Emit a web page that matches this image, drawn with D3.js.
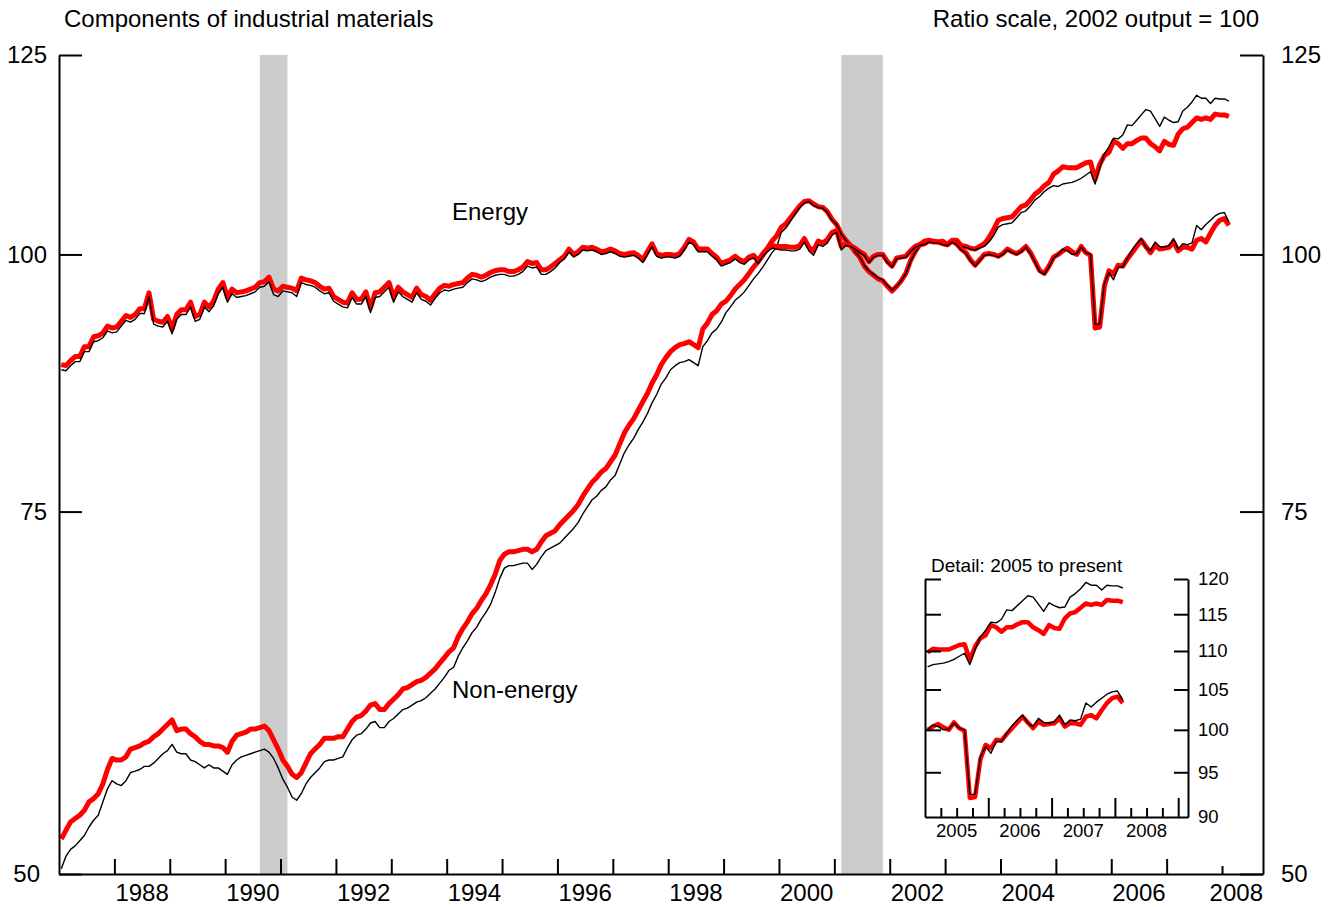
<!DOCTYPE html>
<html>
<head>
<meta charset="utf-8">
<script src="https://cdn.jsdelivr.net/npm/d3@7"></script>
<style>
  body { margin: 0; background: #fff; }
  text { font-family: "Liberation Sans", Arial, Helvetica, sans-serif; fill: #000; }
</style>
</head>
<body>
<svg id="chart" width="1332" height="907"></svg>
<script>
// ---------------- DATA ----------------
// Monthly values, Jan 1987 .. Feb 2008 (index 2002 output = 100, ratio scale)
const firstYear = 1987;

// Energy, current estimate (red)
const energyCurrent = [
  88.4, 88.3, 88.8, 89.2, 89.2, 90.2, 90.2, 91.2, 91.3, 91.6, 92.3, 92.1,
  92.2, 92.8, 93.4, 93.2, 93.5, 94.1, 94.1, 95.8, 93.0, 92.8, 92.7, 93.3,
  92.0, 93.5, 94.0, 94.0, 94.8, 93.3, 93.5, 94.8, 94.3, 94.9, 96.2, 96.9,
  95.3, 96.2, 95.8, 95.9, 96.0, 96.2, 96.4, 96.9, 97.0, 97.5, 96.2, 96.0,
  96.5, 96.4, 96.3, 96.0, 97.4, 97.2, 97.1, 96.9, 96.5, 96.2, 96.3, 95.4,
  95.1, 94.8, 94.7, 95.8, 95.1, 95.1, 95.9, 94.2, 95.8, 95.9, 96.4, 96.9,
  95.3, 96.4, 95.9, 95.6, 95.3, 96.3, 95.6, 95.4, 95.0, 95.7, 96.3, 96.6,
  96.5, 96.7, 96.8, 96.9, 97.4, 97.8, 97.7, 97.5, 97.7, 98.0, 98.2, 98.3,
  98.3, 98.1, 98.1, 98.3, 98.6, 99.2, 99.0, 99.1, 98.3, 98.3, 98.6, 99.0,
  99.4, 99.8, 100.6, 100.0, 100.3, 100.8, 100.7, 100.8, 100.6, 100.3, 100.4, 100.6,
  100.4, 100.1, 100.0, 100.1, 100.2, 99.9, 99.4, 100.3, 101.2, 100.1, 99.9, 100.0,
  100.0, 99.9, 100.1, 100.8, 101.7, 101.4, 100.6, 100.6, 100.6, 100.1, 99.7, 99.0,
  99.2, 99.4, 99.8, 99.4, 99.2, 99.7, 99.9, 99.3, 100.1, 100.6, 101.0, 100.9,
  100.9, 100.9, 100.8, 100.8, 101.0, 101.8, 100.8, 100.4, 101.5, 101.3, 101.7, 102.5,
  102.7, 100.9, 101.2, 101.0, 100.7, 100.3, 100.0, 99.2, 99.8, 100.0, 100.0, 99.2,
  98.7, 99.6, 99.7, 99.8, 100.4, 100.9, 101.1, 101.2, 101.5, 101.4, 101.4, 101.2,
  101.1, 101.5, 101.2, 100.6, 100.2, 99.4, 98.8, 99.4, 100.0, 100.1, 100.0, 99.8,
  100.1, 100.6, 100.3, 100.1, 100.4, 100.9, 100.2, 99.2, 98.2, 97.9, 98.7, 99.7,
  100.0, 100.4, 100.7, 100.3, 100.0, 100.9, 100.2, 99.9, 92.1, 92.2, 96.5, 98.2,
  97.8, 98.8, 98.7, 99.5, 100.2, 100.9, 101.6, 100.9, 100.2, 101.0, 100.6, 100.7,
  100.8, 101.4, 100.4, 100.8, 100.8, 100.6, 101.6, 101.8, 101.4, 102.4, 103.3, 103.9,
  104.1, 103.3
];

// Energy, previous estimate (black)
const energyPrevious = [
  87.9, 87.8, 88.3, 88.7, 88.7, 89.7, 89.7, 90.7, 90.8, 91.1, 91.8, 91.6,
  91.7, 92.3, 92.9, 92.7, 93.0, 93.6, 93.6, 95.4, 92.5, 92.3, 92.2, 92.8,
  91.5, 93.0, 93.5, 93.5, 94.3, 92.8, 93.0, 94.3, 93.8, 94.4, 95.7, 96.4,
  94.8, 95.7, 95.3, 95.4, 95.5, 95.7, 95.9, 96.4, 96.5, 97.0, 95.6, 95.4,
  96.0, 95.9, 95.8, 95.4, 96.9, 96.7, 96.6, 96.4, 96.0, 95.7, 95.8, 94.9,
  94.6, 94.3, 94.2, 95.3, 94.6, 94.6, 95.4, 93.7, 95.3, 95.4, 95.9, 96.4,
  94.8, 95.9, 95.4, 95.1, 94.8, 95.8, 95.1, 94.9, 94.5, 95.2, 95.8, 96.1,
  96.0, 96.2, 96.3, 96.4, 96.9, 97.3, 97.2, 97.0, 97.2, 97.5, 97.7, 97.8,
  97.8, 97.6, 97.6, 97.8, 98.1, 98.7, 98.5, 98.6, 97.8, 97.8, 98.1, 98.5,
  99.1, 99.5, 100.3, 99.7, 100.0, 100.5, 100.4, 100.5, 100.3, 100.0, 100.1, 100.3,
  100.1, 99.8, 99.7, 99.8, 99.9, 99.6, 99.1, 100.0, 100.9, 99.8, 99.6, 99.7,
  99.7, 99.6, 99.8, 100.5, 101.4, 101.1, 100.3, 100.3, 100.3, 99.8, 99.4, 98.7,
  98.9, 99.1, 99.5, 99.1, 98.9, 99.4, 99.6, 99.0, 99.8, 100.3, 100.7, 100.6,
  100.5, 100.5, 100.4, 100.4, 100.6, 101.4, 100.4, 99.9, 101.1, 100.9, 101.3, 102.2,
  102.5, 100.5, 101.0, 100.9, 100.6, 100.2, 99.9, 99.1, 99.7, 99.9, 99.9, 99.1,
  98.6, 99.5, 99.6, 99.7, 100.3, 100.8, 101.0, 101.1, 101.4, 101.3, 101.3, 101.1,
  101.0, 101.4, 101.1, 100.5, 100.1, 99.3, 98.7, 99.3, 99.9, 100.0, 99.9, 99.7,
  100.0, 100.5, 100.2, 100.0, 100.3, 100.8, 100.1, 99.1, 98.1, 97.8, 98.6, 99.6,
  100.0, 100.6, 100.4, 100.0, 100.1, 100.8, 100.2, 100.0, 92.5, 92.5, 96.8, 98.0,
  97.2, 98.6, 98.6, 99.6, 100.5, 101.2, 101.8, 100.8, 100.4, 101.4, 100.9, 100.8,
  101.0, 101.8, 100.6, 101.2, 101.1, 101.3, 103.3, 102.8, 103.4, 103.9, 104.4, 104.7,
  104.8, 103.7
];

// Non-energy, current estimate (red)
const nonEnergyCurrent = [
  52.0, 52.5, 53.0, 53.2, 53.4, 53.7, 54.2, 54.4, 54.7, 55.3, 56.2, 56.9,
  56.8, 56.8, 57.0, 57.5, 57.6, 57.7, 57.9, 58.0, 58.3, 58.5, 58.8, 59.1,
  59.4, 58.7, 58.8, 58.8, 58.5, 58.3, 58.0, 57.8, 57.8, 57.7, 57.7, 57.6,
  57.3, 58.0, 58.4, 58.5, 58.6, 58.8, 58.8, 58.9, 59.0, 58.7, 58.1, 57.5,
  56.8, 56.4, 55.9, 55.7, 56.0, 56.6, 57.2, 57.5, 57.8, 58.2, 58.2, 58.2,
  58.3, 58.3, 58.8, 59.3, 59.6, 59.7, 60.0, 60.4, 60.5, 60.1, 60.1, 60.5,
  60.8, 61.1, 61.5, 61.6, 61.8, 62.0, 62.1, 62.3, 62.6, 62.9, 63.3, 63.7,
  64.1, 64.4, 65.2, 65.8, 66.3, 66.9, 67.3, 67.9, 68.4, 69.1, 69.9, 71.0,
  71.5, 71.7, 71.7, 71.8, 71.9, 71.9, 71.7, 71.9, 72.5, 73.0, 73.2, 73.4,
  73.9, 74.3, 74.7, 75.1, 75.6, 76.3, 76.9, 77.5, 77.9, 78.4, 78.7, 79.3,
  79.9, 80.9, 81.9, 82.6, 83.2, 84.0, 84.8, 85.6, 86.6, 87.4, 88.4, 89.1,
  89.7, 90.1, 90.4, 90.5, 90.7, 90.4, 90.1, 92.0, 92.6, 93.5, 93.9, 94.6,
  94.9, 95.5, 96.2, 96.7, 97.2, 97.9, 98.6, 99.2, 99.9, 100.7, 101.5, 102.1,
  103.1, 103.5, 104.2, 104.9, 105.6, 106.1, 106.2, 105.8, 105.5, 105.4, 104.9, 104.0,
  103.4, 102.3, 101.6, 101.0, 100.3, 99.7, 98.7, 98.1, 97.7, 97.3, 97.1, 96.5,
  96.0, 96.5, 97.1, 97.9, 99.3, 100.3, 101.1, 101.5, 101.6, 101.5, 101.4, 101.5,
  101.1, 101.6, 101.6, 101.0, 100.9, 100.7, 100.6, 100.9, 101.2, 101.9, 102.8, 103.9,
  104.1, 104.2, 104.3, 104.9, 105.5, 105.7, 106.3, 107.0, 107.4, 108.0, 108.4, 109.4,
  109.8, 110.3, 110.2, 110.2, 110.2, 110.5, 110.8, 110.9, 108.8, 110.6, 111.7, 112.1,
  113.5, 113.2, 112.6, 113.2, 113.2, 113.6, 113.9, 113.9, 113.2, 112.8, 112.3, 113.5,
  113.1, 113.0, 114.4, 115.1, 115.3, 115.9, 116.5, 116.3, 116.5, 116.3, 117.0, 116.9,
  116.9, 116.7
];

// Non-energy, previous estimate (black)
const nonEnergyPrevious = [
  50.3, 51.0, 51.4, 51.6, 51.9, 52.2, 52.7, 53.1, 53.4, 54.2, 55.0, 55.5,
  55.3, 55.2, 55.5, 56.0, 56.1, 56.2, 56.4, 56.4, 56.6, 56.9, 57.2, 57.4,
  57.8, 57.3, 57.2, 57.2, 56.8, 56.7, 56.5, 56.3, 56.5, 56.3, 56.3, 56.1,
  55.9, 56.5, 56.8, 57.0, 57.1, 57.2, 57.3, 57.4, 57.5, 57.3, 56.9, 56.3,
  55.6, 55.1, 54.5, 54.3, 54.7, 55.3, 55.7, 56.0, 56.3, 56.7, 56.8, 56.8,
  56.9, 57.0, 57.6, 58.1, 58.4, 58.5, 58.8, 59.2, 59.3, 58.9, 58.9, 59.3,
  59.5, 59.8, 60.1, 60.2, 60.4, 60.6, 60.7, 60.9, 61.2, 61.5, 61.9, 62.3,
  62.8, 63.0, 63.8, 64.4, 64.9, 65.5, 65.9, 66.5, 67.0, 67.6, 68.5, 69.6,
  70.4, 70.6, 70.6, 70.7, 70.8, 70.8, 70.3, 70.7, 71.3, 71.8, 72.0, 72.2,
  72.4, 72.8, 73.2, 73.6, 74.1, 74.8, 75.4, 76.0, 76.3, 76.8, 77.1, 77.7,
  78.1, 79.1, 80.1, 80.8, 81.4, 82.2, 82.9, 83.7, 84.7, 85.5, 86.5, 87.1,
  87.9, 88.3, 88.6, 88.7, 88.9, 88.6, 88.3, 90.2, 90.8, 91.6, 92.0, 92.7,
  93.7, 94.3, 95.0, 95.4, 95.9, 96.6, 97.3, 97.9, 98.6, 99.4, 100.2, 100.8,
  102.5, 103.0, 103.8, 104.6, 105.4, 105.9, 106.1, 105.6, 105.4, 105.3, 104.8, 103.9,
  103.4, 102.3, 101.6, 101.0, 100.3, 99.7, 98.8, 98.2, 97.8, 97.4, 97.2, 96.6,
  96.1, 96.5, 97.1, 97.9, 99.2, 100.2, 101.0, 101.4, 101.5, 101.4, 101.3, 101.4,
  101.1, 101.5, 101.5, 100.9, 100.8, 100.6, 100.5, 100.7, 100.9, 101.4, 102.1, 103.1,
  103.4, 103.5, 103.6, 104.2, 104.8, 105.0, 105.6, 106.3, 106.7, 107.3, 107.7, 108.0,
  107.9, 108.2, 108.3, 108.4, 108.6, 108.9, 109.3, 109.7, 108.2, 110.2, 111.9, 112.8,
  113.9, 113.8, 114.3, 115.6, 115.5, 116.2, 116.9, 117.6, 117.4, 116.4, 115.4, 116.6,
  116.2, 115.9, 116.0, 117.4, 117.9, 118.6, 119.5, 119.1, 119.1, 118.4, 119.1, 119.0,
  119.0, 118.7
];

// Recessions (decimal years, start / end of shading)
const recessions = [[1990.625, 1991.125], [2001.125, 2001.875]];

// Axis ticks / labels
const yTicks = [50, 75, 100, 125];
const xTickYears = d3.range(1988, 2009);
const xLabelYears = [1988, 1990, 1992, 1994, 1996, 1998, 2000, 2002, 2004, 2006, 2008];
const insetFirstYear = 2005;
const insetYTicks = [90, 95, 100, 105, 110, 115, 120];
const insetLabelYears = [2005, 2006, 2007, 2008];

const titleLeft = "Components of industrial materials";
const titleRight = "Ratio scale, 2002 output = 100";
const insetTitle = "Detail: 2005 to present";

// ---------------- CHART ----------------
const svg = d3.select("#chart");
const monthTime = i => firstYear + (i + 0.5) / 12;

const x = d3.scaleLinear().domain([1987, 2008.74]).range([59, 1263]);
const y = d3.scaleLog().domain([50, 125]).range([874, 55]);

// recession shading
svg.append("g").selectAll("rect").data(recessions).join("rect")
  .attr("x", d => x(d[0])).attr("width", d => x(d[1]) - x(d[0]))
  .attr("y", y(125)).attr("height", y(50) - y(125))
  .attr("fill", "#cccccc");

const mainLine = d3.line().x((d, i) => x(monthTime(i))).y(d => y(d));

function drawPair(g, lineGen, cur, prev, redW, blackW) {
  g.append("path").attr("d", lineGen(cur)).attr("fill", "none")
    .attr("stroke", "#ff0000").attr("stroke-width", redW).attr("stroke-linejoin", "round");
  g.append("path").attr("d", lineGen(prev)).attr("fill", "none")
    .attr("stroke", "#000").attr("stroke-width", blackW).attr("stroke-linejoin", "round");
}
const lines = svg.append("g");
drawPair(lines, mainLine, nonEnergyCurrent, nonEnergyPrevious, 5, 1.4);
drawPair(lines, mainLine, energyCurrent, energyPrevious, 5, 1.4);

// axes
const fontMain = "24px";
const leftAxis = svg.append("g").attr("transform", "translate(59,0)")
  .call(d3.axisLeft(y).tickValues(yTicks).tickFormat(d3.format("d"))
    .tickSizeInner(-23).tickSizeOuter(0).tickPadding(12));
const rightAxis = svg.append("g").attr("transform", "translate(1263,0)")
  .call(d3.axisRight(y).tickValues(yTicks).tickFormat(d3.format("d"))
    .tickSizeInner(-23).tickSizeOuter(0).tickPadding(18));
const bottomAxis = svg.append("g").attr("transform", "translate(0,874)")
  .call(d3.axisBottom(x).tickValues(xTickYears).tickFormat("")
    .tickSizeInner(-15).tickSizeOuter(0));

[leftAxis, rightAxis, bottomAxis].forEach(a => {
  a.select(".domain").attr("stroke", "#000").attr("stroke-width", 2);
  a.selectAll(".tick line").attr("stroke", "#000").attr("stroke-width", 2);
  a.selectAll("text").attr("font-size", fontMain).attr("font-family", null).attr("fill", "#000");
});
leftAxis.selectAll(".tick").filter(d => d === 50).select("text").attr("x", -19);
bottomAxis.selectAll(".tick").filter(d => d === 2008).select("line").attr("y2", -8);

// x labels (centered mid-year; last one ends at axis end)
svg.append("g").selectAll("text").data(xLabelYears).join("text")
  .attr("x", d => d === 2008 ? x.range()[1] : x(d + 0.5))
  .attr("y", 901)
  .attr("text-anchor", d => d === 2008 ? "end" : "middle")
  .attr("font-size", fontMain)
  .text(d => d);

// titles
svg.append("text").attr("x", 64).attr("y", 27).attr("font-size", fontMain).text(titleLeft);
svg.append("text").attr("x", 1259).attr("y", 27).attr("text-anchor", "end")
  .attr("font-size", fontMain).text(titleRight);

// series labels
svg.append("text").attr("x", 452).attr("y", 220).attr("font-size", fontMain).text("Energy");
svg.append("text").attr("x", 452).attr("y", 698).attr("font-size", fontMain).text("Non-energy");

// ---------------- INSET ----------------
const inset = svg.append("g");
const startIdx = (insetFirstYear - firstYear) * 12;
const xi = d3.scaleLinear().domain([2005, 2009.155]).range([925, 1188]);
const yi = d3.scaleLog().domain([90, 120]).range([817, 579]);
const insetLine = d3.line().x((d, i) => xi(monthTime(startIdx + i))).y(d => yi(d));

drawPair(inset, insetLine, nonEnergyCurrent.slice(startIdx), nonEnergyPrevious.slice(startIdx), 4.5, 1.4);
drawPair(inset, insetLine, energyCurrent.slice(startIdx), energyPrevious.slice(startIdx), 4.5, 1.4);

const fontInset = "18.5px";
const iLeft = inset.append("g").attr("transform", "translate(925,0)")
  .call(d3.axisLeft(yi).tickValues(insetYTicks.filter(v => v > 90)).tickFormat("")
    .tickSizeInner(-16).tickSizeOuter(0));
const iRight = inset.append("g").attr("transform", "translate(1188,0)")
  .call(d3.axisRight(yi).tickValues(insetYTicks).tickFormat(d3.format("d"))
    .tickSizeInner(-14).tickSizeOuter(0).tickPadding(10));
const quarterTicks = d3.range(1, 17).map(q => 2005 + q / 4);
const iBottom = inset.append("g").attr("transform", "translate(0,817)")
  .call(d3.axisBottom(xi).tickValues(quarterTicks).tickFormat("")
    .tickSizeInner(-9).tickSizeOuter(0));
iBottom.selectAll(".tick").filter(d => Math.abs(d - Math.round(d)) < 1e-6)
  .select("line").attr("y2", -19);
[iLeft, iRight, iBottom].forEach(a => {
  a.select(".domain").attr("stroke", "#000").attr("stroke-width", 2);
  a.selectAll(".tick line").attr("stroke", "#000").attr("stroke-width", 2);
  a.selectAll("text").attr("font-size", fontInset).attr("font-family", null).attr("fill", "#000");
});
iRight.selectAll(".tick").filter(d => d === 90).select("line").remove();

inset.append("g").selectAll("text").data(insetLabelYears).join("text")
  .attr("x", d => xi(d + 0.5)).attr("y", 837).attr("text-anchor", "middle")
  .attr("font-size", fontInset).text(d => d);
inset.append("text").attr("x", 931).attr("y", 572).attr("font-size", "19px").text(insetTitle);
</script>
</body>
</html>
